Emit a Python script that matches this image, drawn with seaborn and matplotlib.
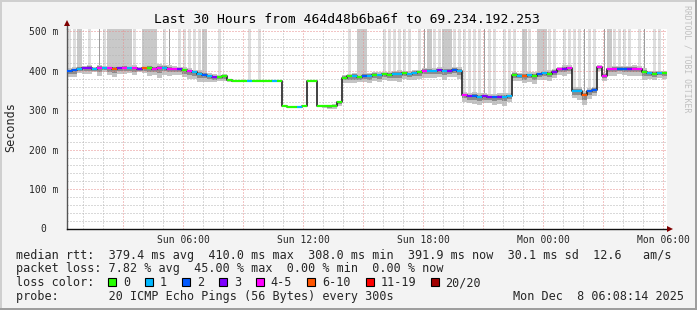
import numpy as np
import pandas as pd
import matplotlib
matplotlib.use("Agg")
import matplotlib.pyplot as plt
import seaborn as sns
from matplotlib.ticker import MultipleLocator, FixedLocator, FuncFormatter
from matplotlib.patches import Rectangle
from matplotlib.lines import Line2D

# ---------------- data ----------------
start_hour = 0.185      # Sun 00:11 (hours since Sun 00:00)
step_hours = 0.25       # 15-minute consolidated samples

median_ms = [400, 402, 406,
             407, 408, 406, 407, 408, 407, 406, 407, 408, 407, 407, 406, 408, 407, 406, 407, 408,
             406, 405, 404, 402, 399, 396, 393, 390, 387, 385, 384, 386,
             378,
             374, 374, 374, 374, 374, 374, 374, 374, 374, 374,
             310, 309, 308, 309, 310,
             374, 374,
             310, 310, 310, 312, 320,
             383,
             386, 387, 385, 388, 387,
             390, 389, 391, 390, 392,
             393, 394, 392, 395, 396,
             400, 401, 399, 402, 400, 401, 403, 400,
             338, 336, 337, 335, 336, 334, 333, 335, 334, 336,
             390, 388, 387, 389, 388,
             392, 394, 393,
             398, 404, 406, 407, 350,
             349, 338, 348, 352,
             410,
             388,
             404, 405, 406, 406, 405, 406, 404,
             398,
             394, 393, 395, 394]

loss_class = [2, 2, 1, 3, 3, 1, 4, 1, 4, 5, 3, 4, 1, 4, 3, 5, 0, 4, 4, 1,
              4, 4, 3, 0, 4, 1, 1, 2, 1, 3, 0, 0,
              0,
              0, 0, 0, 1, 0, 0, 0, 0, 1, 0,
              0, 0, 0, 1, 0,
              0, 0,
              0, 0, 0, 0, 0,
              0,
              0, 1, 0, 2, 1,
              0, 1, 0, 0, 1,
              1, 0, 1, 1, 0,
              4, 1, 1, 3, 1, 3, 2, 1,
              4, 3, 2, 1, 3, 3, 2, 3, 1, 1,
              0, 1, 5, 1, 0,
              2, 1, 0,
              3, 4, 3, 4, 1,
              1, 5, 2, 2,
              4,
              4,
              4, 4, 2, 2, 3, 4, 4,
              0,
              1, 0, 1, 0]

smoke_spread = [15, 18, 12, 14, 16, 10, 20, 12, 18, 22, 14, 16, 12, 18, 10, 14, 20, 16, 24, 18,
                20, 16, 14, 18, 20, 16, 22, 18, 16, 14, 10, 12,
                6,
                1, 1, 1, 1, 1, 1, 1, 1, 1, 1,
                1, 1, 1, 1, 1, 1, 1, 1,
                4, 6, 8, 10,
                14, 16, 18, 14, 16, 18,
                16, 18, 14, 16, 18, 20, 14, 16, 18, 16,
                18, 20, 16, 18, 22, 16, 18, 20,
                16, 18, 20, 22, 18, 16, 20, 18, 22, 16,
                16, 14, 18, 16, 20, 14, 16, 18,
                16, 14, 18, 16, 20,
                22, 24, 20, 16,
                10, 14,
                16, 18, 14, 16, 18, 20, 16,
                22,
                14, 16, 12, 14]

# 0 = none, 1 = few slow pings, 2 = several, 3 = many (smoke reaching top of graph)
spike_shade = [1, 1, 2, 0, 1, 0, 3, 1, 2, 2, 2, 2, 2, 1, 0, 2, 2, 2, 0, 1,
               3, 0, 1, 1, 1, 1, 1, 2, 0, 0, 1, 0, 0, 0, 0, 0, 1, 0, 1, 0,
               0, 0, 0, 0, 0, 0, 0, 0, 0, 0, 0, 0, 0, 0, 0, 0, 1, 0, 2, 2,
               0, 0, 0, 1, 1, 1, 1, 1, 1, 0, 1, 3, 2, 1, 1, 2, 2, 1, 1, 1,
               1, 1, 1, 3, 1, 1, 0, 1, 1, 1, 0, 2, 1, 0, 2, 2, 1, 1, 0, 1,
               1, 1, 1, 3, 1, 1, 0, 3, 2, 1, 1, 1, 1, 0, 1, 3, 0, 1, 1, 0]

loss_labels = ["0", "1", "2", "3", "4-5", "6-10", "11-19", "20/20"]
loss_colors = ["#26ff00", "#00b8ff", "#0059ff", "#7e00ff", "#ff00ff", "#ff5500", "#ff0000", "#a10000"]

y_ticks = [0, 100, 200, 300, 400, 500]
y_labels = ["0  ", "100 m", "200 m", "300 m", "400 m", "500 m"]
x_label_hours = [6, 12, 18, 24, 30]
x_labels = ["Sun 06:00", "Sun 12:00", "Sun 18:00", "Mon 00:00", "Mon 06:00"]

title_text = "Last 30 Hours from 464d48b6ba6f to 69.234.192.253"
line_rtt = "median rtt:  379.4 ms avg  410.0 ms max  308.0 ms min  391.9 ms now  30.1 ms sd  12.6   am/s"
line_loss = "packet loss: 7.82 % avg  45.00 % max  0.00 % min  0.00 % now"
line_probe = "probe:       20 ICMP Echo Pings (56 Bytes) every 300s"
date_text = "Mon Dec  8 06:08:14 2025"
side_text = "RRDTOOL / TOBI OETIKER"

# ---------------- figure ----------------
sns.set_style("white")
plt.rcParams["font.family"] = ["DejaVu Sans Mono", "DejaVu Sans"]

W, H = 697, 310
fig = plt.figure(figsize=(W / 100, H / 100), dpi=100, facecolor="#f3f3f3")


def fx(x):
    return x / W


def fy(y):
    return 1 - y / H


ax_left, ax_right, ax_top, ax_bot = 67, 667, 28.5, 228.5
ax = fig.add_axes([fx(ax_left), fy(ax_bot), (ax_right - ax_left) / W, (ax_bot - ax_top) / H])
ax.set_facecolor("white")

n = len(median_ms)
t = start_hour + step_hours * np.arange(n)
t_edges = np.append(t, t[-1] + step_hours)
med = np.array(median_ms, dtype=float)
spr = np.array(smoke_spread, dtype=float)
med_e = np.append(med, med[-1])
spr_e = np.append(spr, spr[-1])

YMAX = 507.6
XMIN, XMAX = start_hour, start_hour + 30.0

# spikes: slow pings reaching above the graph
spike_col = {1: "#dedede", 2: "#c9c9c9", 3: "#9c9c9c"}
spike_w = {1: 0.13, 2: 0.25, 3: 0.08}
for i, s in enumerate(spike_shade):
    if s == 0:
        continue
    w = spike_w[s]
    ax.bar(t[i] + step_hours / 2, YMAX + 10 - med[i], bottom=med[i], width=w,
           color=spike_col[s], linewidth=0, zorder=0.8)

# smoke
ax.fill_between(t_edges, med_e - spr_e, med_e + 0.45 * spr_e, step="post",
                color="#c4c4c4", linewidth=0, zorder=1.0)
ax.fill_between(t_edges, med_e - 0.5 * spr_e, med_e + 0.22 * spr_e, step="post",
                color="#8c8c8c", linewidth=0, zorder=1.05)

# median step line
df = pd.DataFrame({"t": t_edges, "ms": med_e})
sns.lineplot(data=df, x="t", y="ms", drawstyle="steps-post", color="#222222",
             linewidth=1.2, ax=ax, zorder=4)

# loss-coloured median segments
for i in range(n):
    ax.plot([t[i], t[i] + step_hours], [med[i], med[i]], color=loss_colors[loss_class[i]],
            linewidth=1.6, solid_capstyle="butt", zorder=5)

ax.set_xlim(XMIN, XMAX)
ax.set_ylim(0, YMAX)
ax.set_xlabel("")
ax.set_ylabel("")

# grid
ax.set_axisbelow("line")
ax.xaxis.set_major_locator(FixedLocator(list(range(3, 31, 3))))
ax.xaxis.set_minor_locator(MultipleLocator(1))
ax.yaxis.set_major_locator(FixedLocator(y_ticks))
ax.yaxis.set_minor_locator(MultipleLocator(20))
dot = (0, (1, 2))
ax.grid(which="minor", color="#b4b4b4", linewidth=0.72, linestyle=dot)
ax.grid(which="major", color="#e68c8c", linewidth=0.72, linestyle=dot)

ax.xaxis.set_major_formatter(FuncFormatter(
    lambda v, p: x_labels[x_label_hours.index(int(round(v)))] if int(round(v)) in x_label_hours else ""))
ax.set_yticklabels(y_labels)

ax.tick_params(axis="x", which="major", length=3, width=0.7, color="#de5050",
               labelsize=7, pad=1.5, direction="out")
ax.tick_params(axis="x", which="minor", length=2, width=0.7, color="#999999", direction="out")
ax.tick_params(axis="y", which="major", length=3, width=0.7, color="#555555",
               labelsize=7, pad=3.3, direction="out")
ax.tick_params(axis="y", which="minor", length=0)

for s in ["top", "right"]:
    ax.spines[s].set_visible(False)
ax.spines["left"].set_color("#555555")
ax.spines["left"].set_linewidth(1.0)
ax.spines["bottom"].set_color("#111111")
ax.spines["bottom"].set_linewidth(1.0)

# axis arrows
fig.add_artist(Line2D([fx(ax_right), fx(668)], [fy(ax_bot), fy(ax_bot)], color="#111111", lw=1.0))
fig.add_artist(Line2D([fx(ax_left), fx(ax_left)], [fy(ax_top), fy(24)], color="#555555", lw=1.0))
fig.add_artist(Line2D([fx(670)], [fy(ax_bot)], marker=">", markersize=4.2, color="#800000",
                      markeredgewidth=0))
fig.add_artist(Line2D([fx(ax_left)], [fy(23)], marker="^", markersize=4.2, color="#800000",
                      markeredgewidth=0))

# title and labels
fig.text(fx(347), fy(19.3), title_text, ha="center", va="center", fontsize=9.4, color="black")
fig.text(fx(10.5), fy(127), "Seconds", rotation=90, ha="center", va="center", fontsize=8.5)
fig.text(fx(686.5), fy(5), side_text, rotation=270, ha="center", va="top", fontsize=5.9,
         color="#c0c0c0")

# legend lines
fs = 8.5
fig.text(fx(16), fy(255), line_rtt, ha="left", va="center", fontsize=fs)
fig.text(fx(16), fy(268.5), line_loss, ha="left", va="center", fontsize=fs)
fig.text(fx(16), fy(282.5), "loss color:", ha="left", va="center", fontsize=fs)
sq_x = [108.3, 145.3, 182.3, 219.3, 256.3, 307.3, 365.7, 430.7]
for sx, lab, col in zip(sq_x, loss_labels, loss_colors):
    fig.add_artist(Rectangle((fx(sx), fy(286)), 8 / W, 8 / H, transform=fig.transFigure,
                             facecolor=col, edgecolor="black", linewidth=0.8))
    fig.text(fx(sx + 14.5), fy(282.5), lab, ha="left", va="center", fontsize=fs)
fig.text(fx(16), fy(296.3), line_probe, ha="left", va="center", fontsize=fs)
fig.text(fx(512.7), fy(296.3), date_text, ha="left", va="center", fontsize=fs)

# 3D frame
fig.add_artist(Rectangle((0, 1 - 2 / H), 1, 2 / H, transform=fig.transFigure, color="#cfcfcf", lw=0))
fig.add_artist(Rectangle((0, 0), 2 / W, 1, transform=fig.transFigure, color="#cfcfcf", lw=0))
fig.add_artist(Rectangle((0, 0), 1, 2 / H, transform=fig.transFigure, color="#9e9e9e", lw=0))
fig.add_artist(Rectangle((1 - 2 / W, 0), 2 / W, 1, transform=fig.transFigure, color="#9e9e9e", lw=0))

fig.savefig("out.png", dpi=100, facecolor=fig.get_facecolor())
